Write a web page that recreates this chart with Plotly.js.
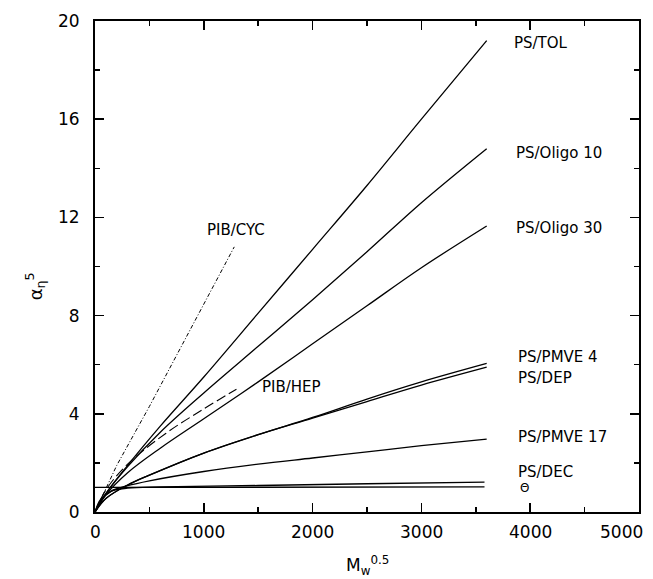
<!DOCTYPE html>
<html>
<head>
<meta charset="utf-8">
<script src="https://cdn.plot.ly/plotly-3.0.1.min.js"></script>
<style>
  html, body { margin: 0; padding: 0; background: #fff; }
  #chart { width: 653px; height: 579px; }
</style>
</head>
<body>
<div id="chart"></div>
<script>
// Expansion factor alpha_eta^5 against Mw^0.5 for several polymer/solvent pairs

// PS in toluene
const tolX = [0, 100, 300, 600, 1000, 1500, 2000, 2500, 3000, 3600];
const tolY = [0, 0.75, 1.9, 3.5, 5.5, 8.1, 10.7, 13.3, 16.0, 19.2];

// PS in oligomer 10
const oli10X = [0, 100, 300, 600, 1000, 1500, 2000, 2500, 3000, 3600];
const oli10Y = [0, 0.75, 1.85, 3.25, 4.85, 6.75, 8.65, 10.6, 12.6, 14.8];

// PS in oligomer 30
const oli30X = [0, 100, 300, 600, 1000, 1500, 2000, 2500, 3000, 3600];
const oli30Y = [0, 0.7, 1.6, 2.6, 3.8, 5.3, 6.85, 8.4, 9.95, 11.65];

// PS in PMVE 4
const pmve4X = [0, 100, 300, 500, 1000, 1500, 2000, 2500, 3000, 3600];
const pmve4Y = [0, 0.55, 1.1, 1.5, 2.4, 3.15, 3.85, 4.6, 5.3, 6.05];

// PS in DEP
const depX = [0, 100, 300, 500, 1000, 1500, 2000, 2500, 3000, 3600];
const depY = [0, 0.55, 1.1, 1.5, 2.4, 3.15, 3.82, 4.5, 5.17, 5.9];

// PS in PMVE 17
const pmve17X = [0, 50, 150, 300, 500, 1000, 1500, 2000, 2500, 3000, 3600];
const pmve17Y = [0, 0.45, 0.85, 1.07, 1.27, 1.65, 1.95, 2.2, 2.45, 2.7, 2.97];

// PS in DEC
const decX = [0, 50, 150, 300, 600, 1500, 2500, 3580];
const decY = [0, 0.5, 0.85, 0.97, 1.02, 1.08, 1.15, 1.22];

// theta condition
const thetaX = [0, 3580];
const thetaY = [1.0, 1.02];

// PIB in cyclohexane
const cycX = [0, 200, 500, 1000, 1280];
const cycY = [0, 1.9, 4.3, 8.5, 10.8];

// PIB in heptane
const hepX = [0, 100, 300, 650, 1000, 1300];
const hepY = [0, 0.9, 1.95, 3.2, 4.2, 5.0];

// axis tick labels
const xTicks = [0, 1000, 2000, 3000, 4000, 5000];
const yTicks = [0, 4, 8, 12, 16, 20];

// curve labels
const labelText = ['PS/TOL', 'PS/Oligo 10', 'PS/Oligo 30', 'PS/PMVE 4', 'PS/DEP',
                   'PS/PMVE 17', 'PS/DEC', 'PIB/CYC', 'PIB/HEP'];
const labelX = [3833, 3851, 3851, 3869, 3869, 3869, 3869, 1296, 1516];
const labelY = [19.1, 14.62, 11.57, 6.31, 5.46, 3.05, 1.62, 11.5, 5.09];
const labelAnchor = ['left', 'left', 'left', 'left', 'left', 'left', 'left', 'center', 'left'];

const solid = (x, y) => ({
  x: x, y: y, type: 'scatter', mode: 'lines',
  line: { color: '#000', width: 1.3, shape: 'spline', smoothing: 1 },
  hoverinfo: 'skip'
});

const traces = [
  solid(tolX, tolY),
  solid(oli10X, oli10Y),
  solid(oli30X, oli30Y),
  solid(pmve4X, pmve4Y),
  solid(depX, depY),
  solid(pmve17X, pmve17Y),
  solid(decX, decY),
  solid(thetaX, thetaY),
  {
    x: cycX, y: cycY, type: 'scatter', mode: 'lines',
    line: { color: '#000', width: 1, dash: '4px,2px,1px,2px' }, hoverinfo: 'skip'
  },
  {
    x: hepX, y: hepY, type: 'scatter', mode: 'lines',
    line: { color: '#000', width: 1.1, dash: '10px,4px', shape: 'spline', smoothing: 1 },
    hoverinfo: 'skip'
  }
];

const font = { family: 'DejaVu Sans, sans-serif', color: '#000' };

const annotations = labelText.map((t, i) => ({
  x: labelX[i], y: labelY[i], xref: 'x', yref: 'y', text: t, showarrow: false,
  xanchor: labelAnchor[i], yanchor: 'middle',
  font: Object.assign({ size: 15 }, font)
}));

annotations.push({
  x: 3952, y: 0.98, xref: 'x', yref: 'y', text: 'Θ', showarrow: false,
  xanchor: 'center', yanchor: 'middle', font: Object.assign({ size: 12 }, font)
});

// x tick labels; the last one is kept inside the page edge
xTicks.forEach((v, i) => {
  const last = i === xTicks.length - 1;
  annotations.push({
    x: v, y: 0, xref: 'x', yref: 'y', yshift: -20, xshift: last ? 6 : 0,
    text: String(v), showarrow: false,
    xanchor: last ? 'right' : 'center', yanchor: 'middle',
    font: Object.assign({ size: 17 }, font)
  });
});

// axis titles
annotations.push({
  x: 0.5, y: -0.08, xref: 'paper', yref: 'paper', text: 'M<sub>w</sub><sup>0.5</sup>',
  showarrow: false, xanchor: 'center', yanchor: 'top',
  font: Object.assign({ size: 17 }, font)
});
annotations.push({
  x: -0.11, y: 0.46, xref: 'paper', yref: 'paper', text: 'α<sub>η</sub><sup>5</sup>',
  showarrow: false, xanchor: 'center', yanchor: 'middle', textangle: -90,
  font: Object.assign({ size: 18 }, font)
});

const axisCommon = {
  showline: true, linecolor: '#000', linewidth: 2, mirror: 'ticks',
  ticks: 'inside', ticklen: 9, tickwidth: 1.5, tickcolor: '#000',
  showgrid: false, zeroline: false,
  tickfont: Object.assign({ size: 17 }, font)
};

const layout = {
  width: 653, height: 579,
  margin: { l: 95, r: 14, t: 21, b: 67 },
  paper_bgcolor: '#fff', plot_bgcolor: '#fff',
  showlegend: false,
  xaxis: Object.assign({}, axisCommon, {
    range: [0, 5000], tickvals: xTicks, showticklabels: false,
    minor: { ticks: 'inside', dtick: 500, ticklen: 5, tickcolor: '#000', tickwidth: 1.5 }
  }),
  yaxis: Object.assign({}, axisCommon, {
    range: [0, 20], tickvals: yTicks, ticktext: yTicks.map(String),
    ticklabelstandoff: 10,
    minor: { ticks: 'inside', dtick: 2, ticklen: 5, tickcolor: '#000', tickwidth: 1.5 }
  }),
  annotations: annotations
};

Plotly.newPlot('chart', traces, layout, { staticPlot: true, displayModeBar: false });
</script>
</body>
</html>
